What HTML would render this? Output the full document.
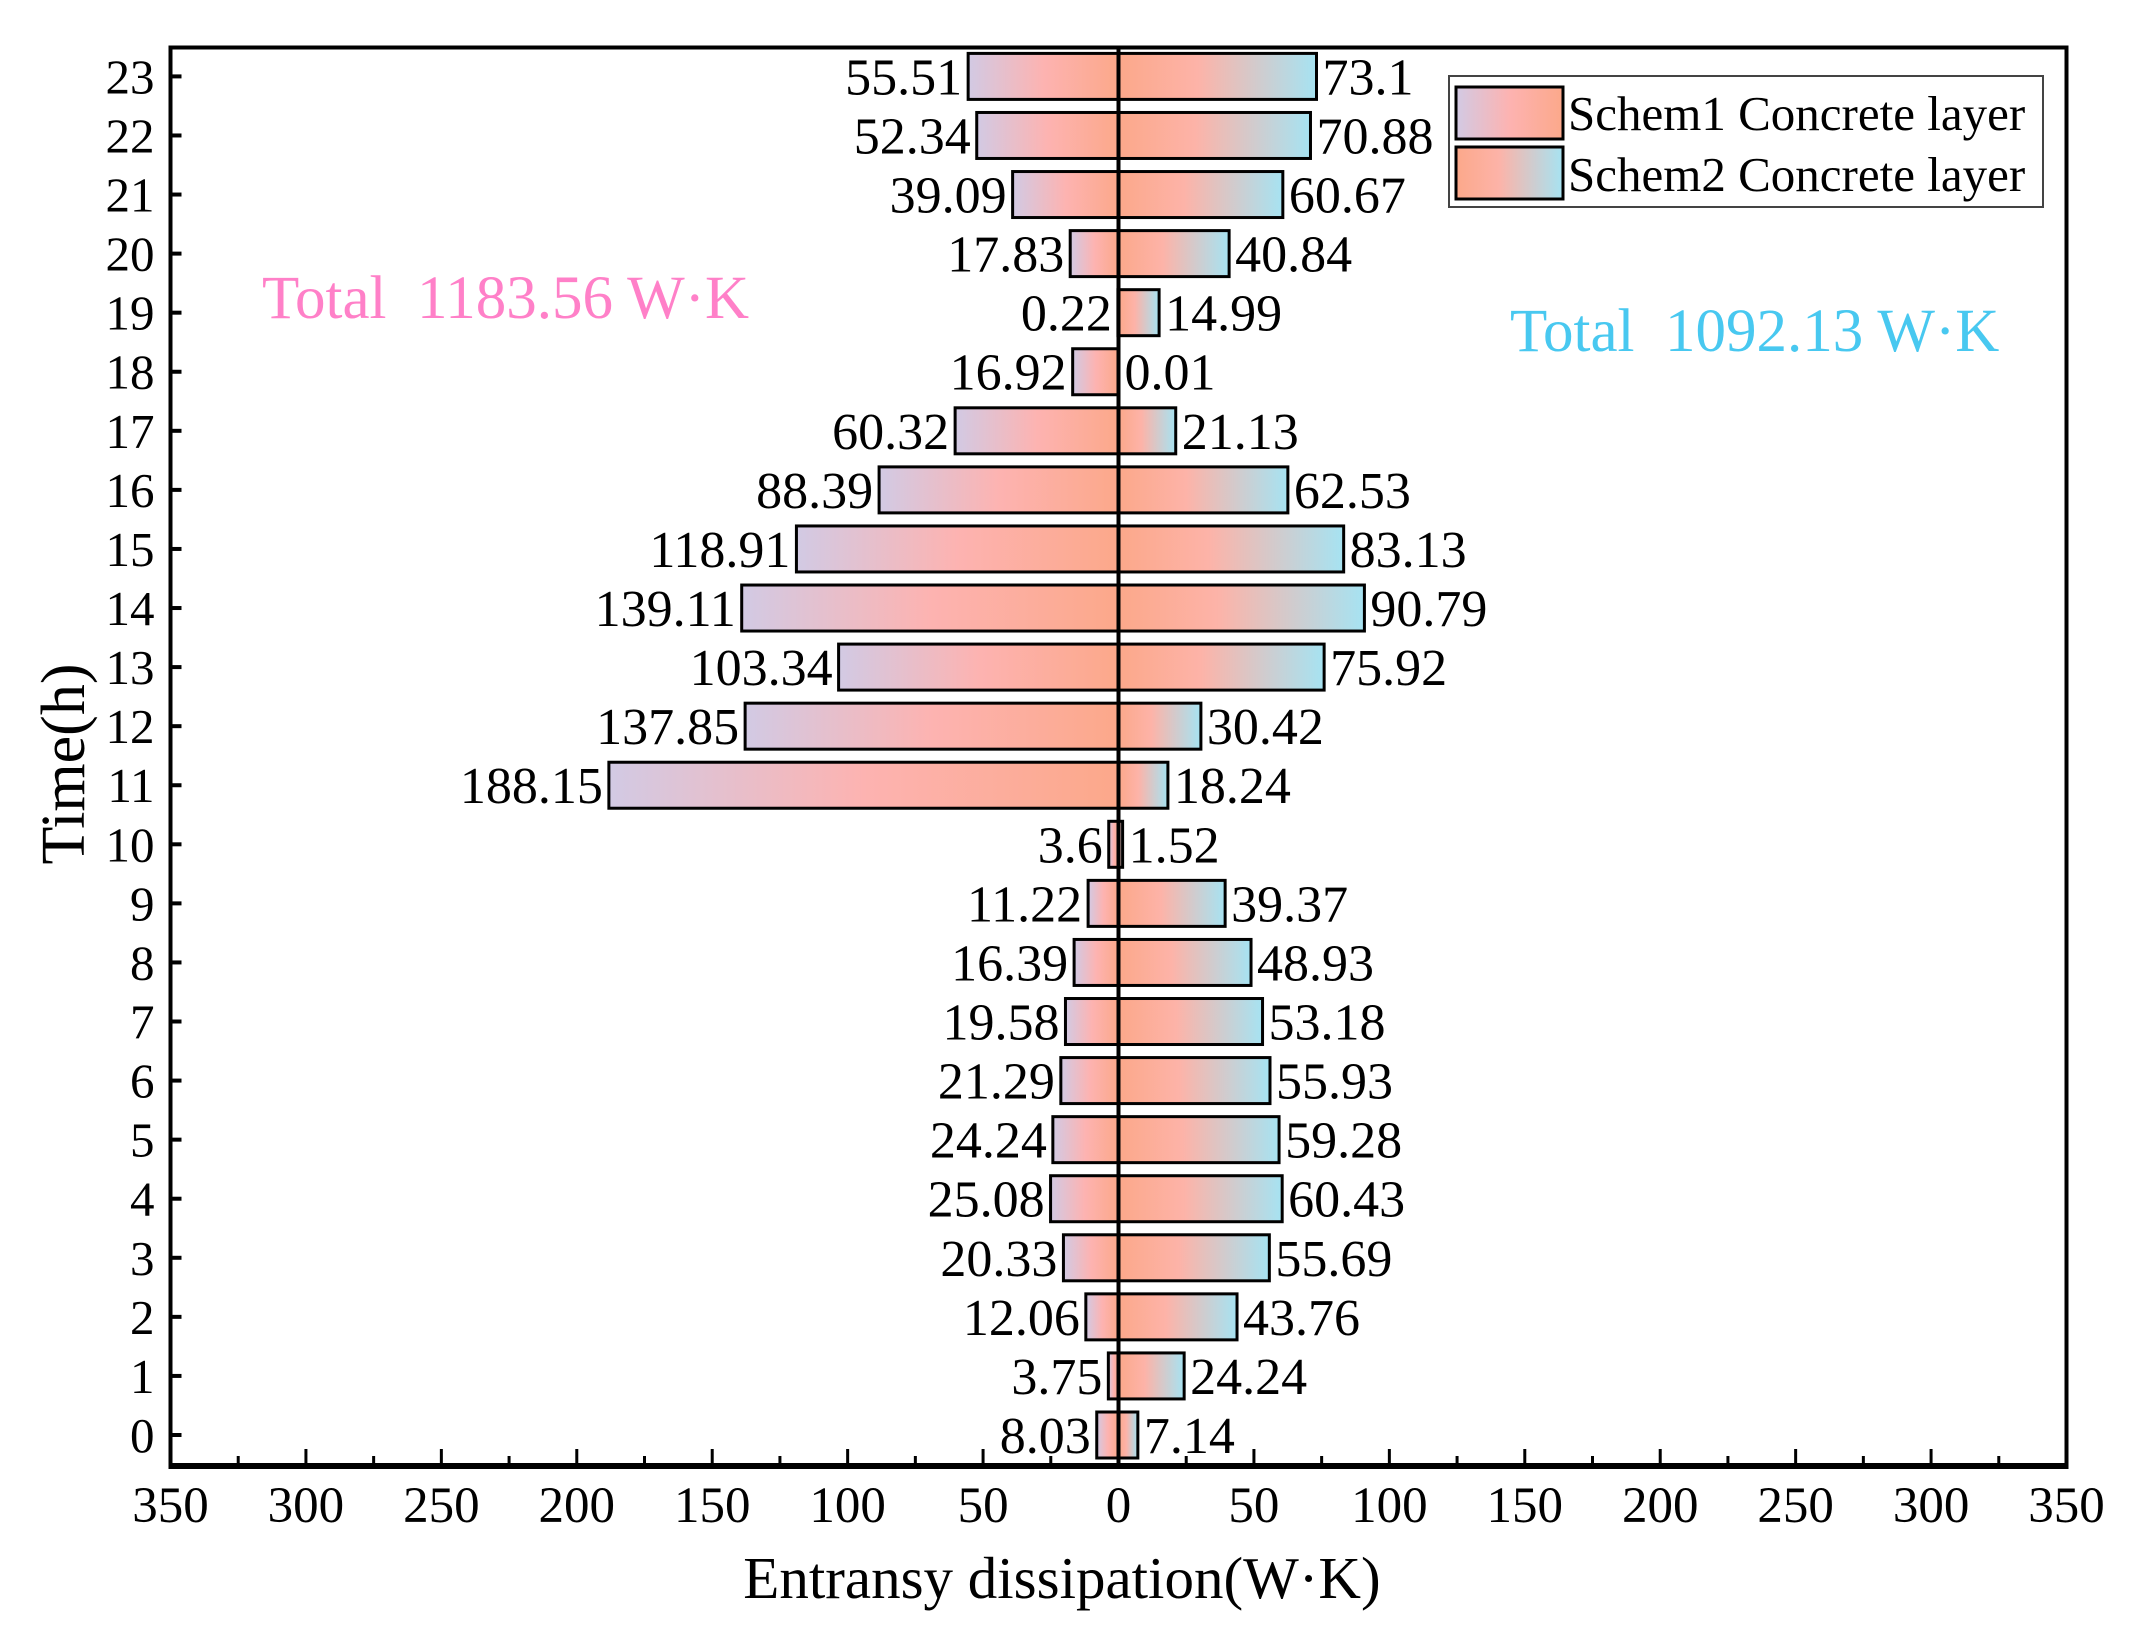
<!DOCTYPE html>
<html><head><meta charset="utf-8"><style>
html,body{margin:0;padding:0;background:#fff;}
body{position:relative;}
svg{display:block;font-family:"Liberation Serif",serif;}
</style></head><body>
<svg id="chart" width="2139" height="1630" viewBox="0 0 2139 1630" xmlns="http://www.w3.org/2000/svg">
<defs>
<linearGradient id="g1" x1="0" x2="1" y1="0" y2="0">
<stop offset="0" stop-color="#d2cae4"/><stop offset="0.5" stop-color="#fdb3b1"/><stop offset="1" stop-color="#fca88a"/>
</linearGradient>
<linearGradient id="g2" x1="0" x2="1" y1="0" y2="0">
<stop offset="0" stop-color="#fca88a"/><stop offset="0.4" stop-color="#fdb3a8"/><stop offset="1" stop-color="#a6e3f2"/>
</linearGradient>
</defs>
<g id="plot"></g>
</svg>
<script>
const hours = [0,1,2,3,4,5,6,7,8,9,10,11,12,13,14,15,16,17,18,19,20,21,22,23];
const scheme1 = [8.03,3.75,12.06,20.33,25.08,24.24,21.29,19.58,16.39,11.22,3.6,188.15,137.85,103.34,139.11,118.91,88.39,60.32,16.92,0.22,17.83,39.09,52.34,55.51];
const scheme2 = [7.14,24.24,43.76,55.69,60.43,59.28,55.93,53.18,48.93,39.37,1.52,18.24,30.42,75.92,90.79,83.13,62.53,21.13,0.01,14.99,40.84,60.67,70.88,73.1];
const scheme1Labels = ["8.03","3.75","12.06","20.33","25.08","24.24","21.29","19.58","16.39","11.22","3.6","188.15","137.85","103.34","139.11","118.91","88.39","60.32","16.92","0.22","17.83","39.09","52.34","55.51"];
const scheme2Labels = ["7.14","24.24","43.76","55.69","60.43","59.28","55.93","53.18","48.93","39.37","1.52","18.24","30.42","75.92","90.79","83.13","62.53","21.13","0.01","14.99","40.84","60.67","70.88","73.1"];
const xTicks = [-350,-300,-250,-200,-150,-100,-50,0,50,100,150,200,250,300,350];
const xTickLabels = ["350","300","250","200","150","100","50","0","50","100","150","200","250","300","350"];

const NS="http://www.w3.org/2000/svg";
const g=document.getElementById('plot');
const L=170.5,R=2066.5,T=47.5,B=1466;
const X=v=>L+(v+350)/700*(R-L);
const Y=h=>1435-(h-0)*(1435-76.4)/23;
const BH=46;
function mk(tag,attrs,parent){const e=document.createElementNS(NS,tag);for(const k in attrs)e.setAttribute(k,attrs[k]);(parent||g).appendChild(e);return e;}

hours.forEach((h,i)=>{
  const y=Y(h);
  const v1=scheme1[i], v2=scheme2[i];
  const b1=mk('rect',{x:X(-v1),y:y-BH/2,width:Math.max(X(0)-X(-v1),0.5),height:BH,fill:'url(#g1)',stroke:'#000','stroke-width':3});
  
  
  const b2=mk('rect',{x:X(0),y:y-BH/2,width:Math.max(X(v2)-X(0),0.5),height:BH,fill:'url(#g2)',stroke:'#000','stroke-width':3});
  
  
  const t1=mk('text',{x:X(-v1)-6,y:y+18,'font-size':52,'text-anchor':'end'});
  t1.textContent=scheme1Labels[i];
  
  
  const t2=mk('text',{x:X(v2)+6,y:y+18,'font-size':52,'text-anchor':'start'});
  t2.textContent=scheme2Labels[i];
  
  
  const tk=mk('line',{x1:L,x2:L+11,y1:y,y2:y,stroke:'#000','stroke-width':4});
  
  
  const yl=mk('text',{x:L-16,y:y+17,'font-size':49,'text-anchor':'end'});
  yl.textContent=String(h);
  
  
});
const z=mk('line',{x1:X(0),x2:X(0),y1:T,y2:B,stroke:'#000','stroke-width':4});


for(let v=-350;v<=350;v+=25){
  const major=(v%50===0);
  const t=mk('line',{x1:X(v),x2:X(v),y1:B,y2:B-(major?17:10),stroke:'#000','stroke-width':3});
  
  
}
xTicks.forEach((v,i)=>{
  const t=mk('text',{x:X(v),y:1522,'font-size':51,'text-anchor':'middle'});
  t.textContent=xTickLabels[i];
  
  
});
const f=mk('rect',{x:L,y:T,width:R-L,height:B-T,fill:'none',stroke:'#000','stroke-width':4});


const bl=mk('line',{x1:L-2,x2:R+2,y1:B,y2:B,stroke:'#000','stroke-width':6});


</script>
<svg style="position:absolute;left:0;top:0" width="2139" height="1630" xmlns="http://www.w3.org/2000/svg">
<text x="1062" y="1598" font-size="59" text-anchor="middle" font-family="Liberation Serif, serif">Entransy dissipation(W·K)</text>
<text transform="translate(84,764) rotate(-90)" font-size="62" text-anchor="middle" font-family="Liberation Serif, serif">Time(h)</text>
<text x="262" y="318" font-size="61" fill="#ff80c8" font-family="Liberation Serif, serif" xml:space="preserve">Total  1183.56 W·K</text>
<text x="1510" y="351" font-size="61" fill="#48c8f0" font-family="Liberation Serif, serif" xml:space="preserve">Total  1092.13 W·K</text>
<g>
<rect x="1449" y="76" width="594" height="131" fill="#fff" stroke="#444" stroke-width="2"/>
<rect x="1456" y="87" width="107" height="52" fill="url(#g1)" stroke="#000" stroke-width="3"/>
<rect x="1456" y="147" width="107" height="52" fill="url(#g2)" stroke="#000" stroke-width="3"/>
<text x="1568" y="130" font-size="49" font-family="Liberation Serif, serif">Schem1 Concrete layer</text>
<text x="1568" y="191" font-size="49" font-family="Liberation Serif, serif">Schem2 Concrete layer</text>
</g>
</svg>
</body></html>
